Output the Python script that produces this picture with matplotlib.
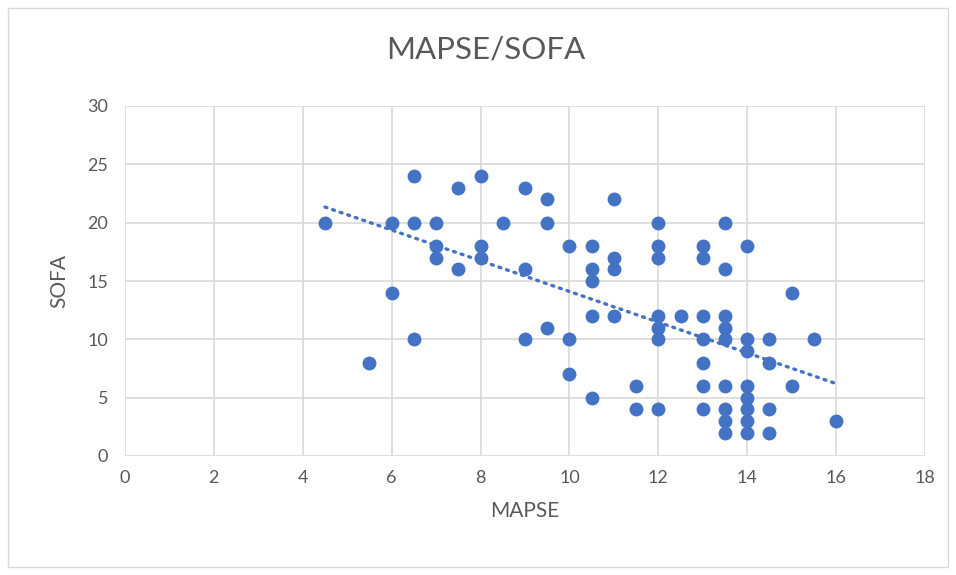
import numpy as np
import matplotlib.pyplot as plt
from matplotlib.patches import Rectangle

# MAPSE (x) and SOFA (y) values
mapse = [4.5, 5.5, 6, 6, 6.5, 6.5, 6.5, 7, 7, 7, 7.5, 7.5, 8, 8, 8, 8.5,
         9, 9, 9, 9.5, 9.5, 9.5, 10, 10, 10, 10.5, 10.5, 10.5, 10.5, 10.5,
         11, 11, 11, 11, 11.5, 11.5, 12, 12, 12, 12, 12, 12, 12, 12.5,
         13, 13, 13, 13, 13, 13, 13,
         13.5, 13.5, 13.5, 13.5, 13.5, 13.5, 13.5, 13.5, 13.5,
         14, 14, 14, 14, 14, 14, 14, 14,
         14.5, 14.5, 14.5, 14.5, 15, 15, 15.5, 16]
sofa = [20, 8, 20, 14, 24, 20, 10, 20, 18, 17, 23, 16, 24, 18, 17, 20,
        23, 16, 10, 22, 20, 11, 18, 10, 7, 18, 16, 15, 12, 5,
        22, 17, 16, 12, 6, 4, 20, 18, 17, 12, 11, 10, 4, 12,
        18, 17, 12, 10, 8, 6, 4,
        20, 16, 12, 11, 10, 6, 4, 3, 2,
        18, 10, 9, 6, 5, 4, 3, 2,
        10, 8, 4, 2, 14, 6, 10, 3]

x_ticks = [0, 2, 4, 6, 8, 10, 12, 14, 16, 18]
y_ticks = [0, 5, 10, 15, 20, 25, 30]

blue = '#4472C4'
grey = '#595959'
plt.rcParams['font.family'] = ['Lato', 'DejaVu Sans']

fig = plt.figure(figsize=(9.56, 5.75), dpi=100)
ax = fig.add_axes([125/956, 119/575, 800/956, 350/575])

ax.scatter(mapse, sofa, s=100, color=blue, zorder=3, linewidths=0)

# linear trendline over the data range
k, b = np.polyfit(mapse, sofa, 1)
xs = np.array([min(mapse), max(mapse)])
ax.plot(xs, k*xs + b, color=blue, linestyle=(0, (0.6, 1.8)), linewidth=2.4,
        dash_capstyle='round', zorder=2)

ax.set_xlim(0, 18)
ax.set_ylim(0, 30)
ax.set_xticks(x_ticks)
ax.set_yticks(y_ticks)
ax.grid(True, color='#D9D9D9', linewidth=1.2, zorder=0)
ax.set_axisbelow(True)
for s in ax.spines.values():
    s.set_visible(False)
ax.tick_params(length=0, labelsize=13, colors=grey)
ax.tick_params(axis='x', pad=10)
ax.tick_params(axis='y', pad=12)

ax.set_xlabel('MAPSE', fontsize=15, color=grey, labelpad=11)
ax.set_ylabel('SOFA', fontsize=15, color=grey, labelpad=13)
fig.text(486/956, 1 - 50/575, 'MAPSE/SOFA', fontsize=22.5, color=grey,
         ha='center', va='center')

fig.add_artist(Rectangle((8/956, 8/575), 940/956, 559/575, transform=fig.transFigure,
                         fill=False, edgecolor='#D9D9D9', linewidth=1))

fig.savefig('out.png', dpi=100)
